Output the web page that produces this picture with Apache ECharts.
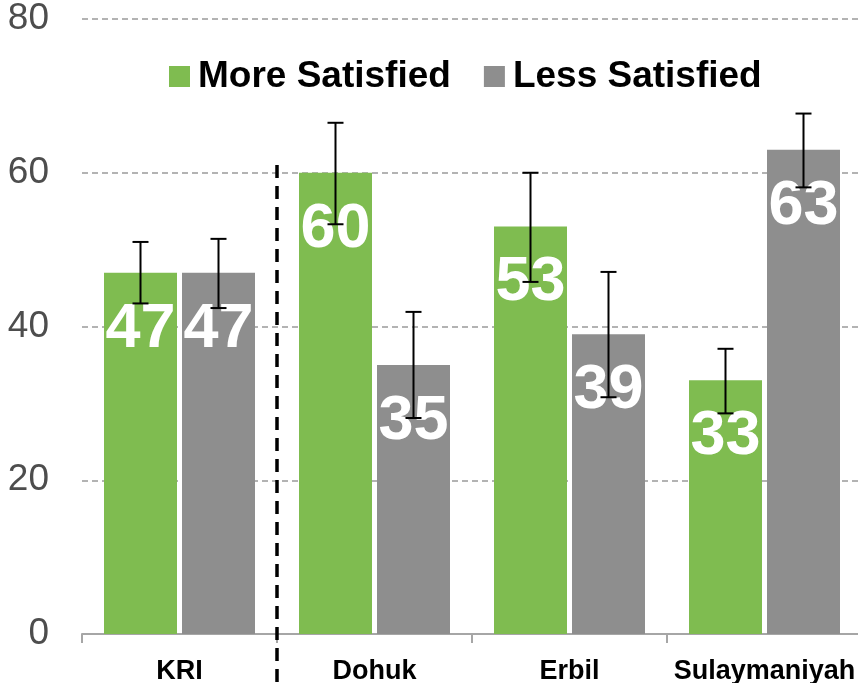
<!DOCTYPE html>
<html>
<head>
<meta charset="utf-8">
<script src="https://cdn.jsdelivr.net/npm/echarts@6/dist/echarts.min.js"></script>
<style>
    html, body { margin: 0; padding: 0; background: #fff; }
    #mychart { width: 858px; height: 683px; }
</style>
</head>
<body>
<div id="mychart"></div>
<script>
    var categories = ['KRI', 'Dohuk', 'Erbil', 'Sulaymaniyah'];
    var seriesNames = ['More Satisfied', 'Less Satisfied'];
    var moreValues = [47, 60, 53, 33];
    var lessValues = [47, 35, 39, 63];
    // error bar ranges [low, high]
    var moreErrors = [[43, 51], [53.3, 66.5], [45.8, 60], [28.7, 37.1]];
    var lessErrors = [[42.4, 51.4], [28.1, 41.9], [30.8, 47.1], [58.1, 67.7]];
    // separator after KRI: [category index, top value, bottom value]
    var separator = [[0, 61, -6.4]];

    var font = "'Liberation Sans', Arial, sans-serif";
    var colors = ['#7FBC50', '#8E8E8E'];
    var barWidth = 73;
    var barGapPx = 5;

    function errorData(values) {
        var out = [];
        for (var i = 0; i < values.length; i++) {
            out.push([i, values[i][0], values[i][1]]);
        }
        return out;
    }

    function errorSeries(values, offset) {
        return {
            type: 'custom',
            z: 10,
            silent: true,
            data: errorData(values),
            encode: {x: 0, y: [1, 2]},
            renderItem: function (params, api) {
                var low = api.coord([api.value(0), api.value(1)]);
                var high = api.coord([api.value(0), api.value(2)]);
                var x = low[0] + offset;
                var cap = 8;
                var style = {stroke: '#000', lineWidth: 2};
                return {
                    type: 'group',
                    children: [
                        {type: 'line', shape: {x1: x, y1: low[1], x2: x, y2: high[1]}, style: style},
                        {type: 'line', shape: {x1: x - cap, y1: low[1], x2: x + cap, y2: low[1]}, style: style},
                        {type: 'line', shape: {x1: x - cap, y1: high[1], x2: x + cap, y2: high[1]}, style: style}
                    ]
                };
            }
        };
    }

    function barSeries(name, data, color) {
        return {
            name: name,
            type: 'bar',
            data: data,
            barWidth: barWidth,
            barGap: (barGapPx / barWidth * 100) + '%',
            itemStyle: {color: color},
            label: {
                show: true,
                position: 'insideTop',
                distance: 25,
                color: '#fff',
                fontSize: 63,
                fontWeight: 'bold',
                fontFamily: font
            }
        };
    }

    var offset = (barWidth + barGapPx) / 2;

    var option = {
        backgroundColor: '#fff',
        animation: false,
        legend: {
            data: seriesNames,
            left: 169,
            top: 58,
            padding: 0,
            itemWidth: 21,
            itemHeight: 21,
            itemGap: 33,
            icon: 'rect',
            textStyle: {
                fontSize: 37,
                fontWeight: 'bold',
                color: '#000',
                fontFamily: font,
                padding: [0, 0, 0, 3]
            }
        },
        grid: {
            left: 82,
            top: 19,
            width: 780,
            height: 615,
            outerBoundsMode: 'none'
        },
        xAxis: {
            type: 'category',
            data: categories,
            axisLine: {lineStyle: {color: '#A6A6A6', width: 2}},
            axisTick: {show: true, length: 9, lineStyle: {color: '#A6A6A6', width: 2}},
            axisLabel: {
                interval: 0,
                margin: 24,
                fontSize: 27,
                fontWeight: 'bold',
                color: '#000',
                fontFamily: font
            }
        },
        yAxis: {
            type: 'value',
            min: 0,
            max: 80,
            interval: 20,
            axisLine: {show: false},
            axisTick: {show: false},
            axisLabel: {
                margin: 33,
                fontSize: 37,
                color: '#4D4D4D',
                fontFamily: font
            },
            splitLine: {
                lineStyle: {color: '#B3B3B3', width: 2, type: [6, 4]}
            }
        },
        series: [
            barSeries(seriesNames[0], moreValues, colors[0]),
            barSeries(seriesNames[1], lessValues, colors[1]),
            errorSeries(moreErrors, -offset),
            errorSeries(lessErrors, offset),
            {
                type: 'custom',
                z: 10,
                silent: true,
                clip: false,
                data: separator,
                encode: {x: 0, y: [1, 2]},
                renderItem: function (params, api) {
                    var top = api.coord([api.value(0), api.value(1)]);
                    var bottom = api.coord([api.value(0), api.value(2)]);
                    var x = top[0] + api.size([1, 0])[0] / 2;
                    return {
                        type: 'line',
                        shape: {x1: x, y1: top[1], x2: x, y2: bottom[1]},
                        style: {stroke: '#000', lineWidth: 3.5, lineDash: [13, 8]}
                    };
                }
            }
        ]
    };

    var myChart = echarts.init(document.getElementById('mychart'));
    myChart.setOption(option);
</script>
</body>
</html>
